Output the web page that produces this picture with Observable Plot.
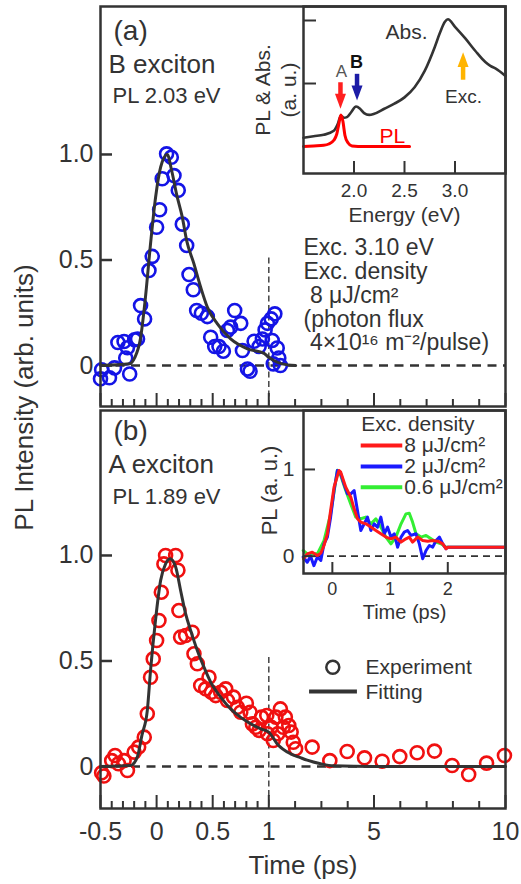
<!DOCTYPE html>
<html><head><meta charset="utf-8">
<script src="https://cdn.jsdelivr.net/npm/d3@7"></script>
<script src="https://cdn.jsdelivr.net/npm/@observablehq/plot@0.6"></script>
<style>
body{margin:0;background:#fff;}
#fig{position:relative;width:521px;height:884px;overflow:hidden;background:#fff;}
g[aria-label="y-title"] text{letter-spacing:1px;}
g[aria-label="legend-text"] text{letter-spacing:0.5px;}
</style></head><body><div id="fig"></div>
<script>
// ---------------- data ----------------
// Panel (a): B exciton, PL 2.03 eV (blue circles) and fit
const bTime = [-0.49,-0.50,-0.42,-0.375,-0.345,-0.29,-0.26,-0.275,-0.24,-0.196,-0.17,-0.143,-0.107,-0.068,-0.039,0.0,0.027,0.05,0.089,0.131,0.155,0.193,0.229,0.268,0.289,0.327,0.357,0.399,0.452,0.482,0.518,0.556,0.595,0.631,0.66,0.696,0.75,0.765,0.81,0.833,0.869,0.914,0.943,0.967,0.988,1.09,1.23,1.13,1.32,1.38,1.44,1.17];
const bPL   = [-0.02,-0.063,-0.058,-0.011,0.109,0.114,0.084,0.036,-0.04,0.122,0.126,0.284,0.221,0.45,0.517,0.655,0.738,0.885,1.003,0.987,0.90,0.83,0.67,0.569,0.431,0.359,0.261,0.248,0.232,0.134,0.09,0.09,0.068,0.166,0.182,0.261,0.20,0.071,-0.016,-0.027,0.115,0.09,0.126,0.169,0.20,0.221,0.245,0.119,0.083,0.036,0.0,0.008];
const bFitTime = [-0.5,-0.24,-0.196,-0.143,-0.1,-0.054,-0.009,0.036,0.095,0.134,0.179,0.229,0.268,0.333,0.393,0.452,0.542,0.66,0.81,0.958,1.0,1.19,1.51,2.02];
const bFitPL   = [0,0.008,0.036,0.13,0.32,0.577,0.797,0.94,1.0,0.924,0.81,0.703,0.592,0.482,0.371,0.277,0.197,0.126,0.079,0.058,0.039,0.024,0.008,0];

// Panel (b): A exciton, PL 1.89 eV (red circles) and fit
const aTime = [-0.49,-0.47,-0.40,-0.37,-0.34,-0.29,-0.26,-0.20,-0.16,-0.11,-0.083,-0.054,-0.03,0.0,0.021,0.042,0.065,0.08,0.17,0.19,0.199,0.214,0.259,0.318,0.333,0.363,0.393,0.4375,0.467,0.488,0.527,0.571,0.616,0.631,0.685,0.72,0.75,0.80,0.833,0.854,0.884,0.914,0.935,0.982,0.988,1.09,1.17,1.27,1.34,1.44,1.55,1.63,1.76,1.85,1.93,2.02,2.65,3.32,3.98,4.64,5.31,5.98,6.64,7.30,7.97,8.60,9.28,9.96];
const aPL   = [-0.03,-0.045,0.028,0.052,0.013,0.028,-0.019,0.068,0.092,0.139,0.25,0.423,0.51,0.597,0.692,0.826,0.96,1.0,1.0,0.93,0.739,0.613,0.621,0.636,0.534,0.487,0.384,0.368,0.423,0.352,0.336,0.352,0.368,0.313,0.329,0.281,0.257,0.30,0.257,0.202,0.186,0.171,0.234,0.242,0.155,0.186,0.123,0.234,0.155,0.273,0.186,0.234,0.194,0.163,0.115,0.084,0.092,0.028,0.071,0.041,0.025,0.047,0.065,0.073,0.005,-0.038,0.016,0.052];
const aFitTime = [-0.5,-0.232,-0.173,-0.13,-0.083,-0.054,-0.01,0.036,0.08,0.12,0.17,0.214,0.259,0.304,0.363,0.423,0.482,0.571,0.66,0.75,0.84,0.929,1.0,1.32,1.83,2.2,2.46,2.97,3.46,5,7,10];
const aFitPL   = [0,0.005,0.043,0.15,0.265,0.455,0.692,0.882,0.96,0.985,0.945,0.834,0.723,0.644,0.55,0.47,0.40,0.329,0.273,0.233,0.202,0.178,0.163,0.107,0.06,0.042,0.03,0.013,0.003,0,0,0];

// Inset (a): absorption and PL spectra
const absEnergy = [1.5,1.6,1.7,1.8,1.84,1.87,1.9,1.93,1.97,2.02,2.06,2.1,2.15,2.2,2.3,2.4,2.5,2.6,2.7,2.8,2.85,2.9,2.93,3.0,3.1,3.2,3.3,3.35,3.4,3.5];
const absValue  = [0.07,0.082,0.093,0.125,0.18,0.246,0.228,0.233,0.27,0.317,0.3,0.265,0.251,0.26,0.30,0.34,0.39,0.47,0.60,0.79,0.90,0.99,1.01,0.95,0.86,0.76,0.67,0.64,0.62,0.56];
const plEnergy = [1.5,1.6,1.7,1.75,1.8,1.83,1.85,1.87,1.89,1.91,1.94,1.98,2.1,2.3,2.55];
const plValue  = [0.0,0.005,0.01,0.02,0.05,0.1,0.18,0.25,0.2,0.09,0.03,0.005,0.0,0.0,0.0];
// arrows: energy, shaft start, head centre, rotation, colour
const arrowEnergy = [1.866, 2.03, 3.08];
const arrowFrom   = [0.51, 0.577, 0.53];
const arrowHead   = [0.359, 0.425, 0.689];
const arrowRotate = [0, 0, 180];
const arrowColor  = ["#ff1f1f", "#1c1ca6", "#ffb400"];

// Inset (b): PL transients for three excitation densities
const t8  = [-0.5,-0.435,-0.348,-0.26,-0.2,-0.145,-0.086,-0.03,0.029,0.116,0.145,0.232,0.32,0.377,0.435,0.493,0.58,0.667,0.754,0.84,0.928,1.015,1.1,1.19,1.275,1.333,1.39,1.478,1.565,1.652,1.739,1.826,1.913,1.971,2.0,3.0];
const pl8 = [-0.03,0.027,0.046,0.008,0.035,0.123,0.258,0.527,0.796,0.988,0.969,0.796,0.68,0.546,0.431,0.393,0.373,0.335,0.296,0.258,0.22,0.2,0.22,0.162,0.2,0.22,0.162,0.22,0.181,0.173,0.181,0.173,0.142,0.085,0.104,0.104];
const t2  = [-0.505,-0.435,-0.377,-0.32,-0.26,-0.2,-0.145,-0.086,-0.03,0.029,0.087,0.145,0.2,0.261,0.32,0.377,0.435,0.493,0.551,0.609,0.667,0.725,0.783,0.84,0.9,0.957,1.015,1.073,1.13,1.19,1.246,1.304,1.362,1.449,1.507,1.565,1.623,1.681,1.739,1.797,1.855,1.913,1.971,2.0,3.0];
const pl2 = [-0.01,-0.07,0.0,-0.11,-0.01,-0.05,0.142,0.22,0.45,0.757,0.988,0.95,0.834,0.719,0.719,0.757,0.527,0.296,0.373,0.45,0.296,0.373,0.335,0.45,0.258,0.335,0.22,0.258,0.104,0.22,0.277,0.296,0.239,0.258,0.142,-0.03,0.065,0.123,0.104,0.181,0.22,0.142,0.085,0.104,0.104];
const t06  = [-0.505,-0.435,-0.26,-0.145,-0.03,0.087,0.145,0.232,0.32,0.406,0.493,0.58,0.667,0.754,0.84,0.928,1.015,1.1,1.19,1.275,1.333,1.39,1.449,1.536,1.623,1.71,1.797,1.884,1.971,3.0];
const pl06 = [0.065,0.027,0.027,0.18,0.488,0.99,0.93,0.757,0.6,0.45,0.431,0.45,0.373,0.431,0.335,0.22,0.142,0.22,0.373,0.488,0.496,0.393,0.258,0.22,0.239,0.2,0.162,0.142,0.104,0.104];
const densityLabels = ["8 μJ/cm²", "2 μJ/cm²", "0.6 μJ/cm²"];

// ticks
const timeMajorTicks = [-0.5, 0, 0.5, 1, 5, 10];
const timeMinorTicks = [-0.4,-0.3,-0.2,-0.1,0.1,0.2,0.3,0.4,0.6,0.7,0.8,0.9,2,3,4,6,7,8,9];
const intensityTicks = [0, 0.5, 1];
const energyTicks = [2.0, 2.5, 3.0];
const insetAYTicks = [0.5, 1];
const insetBTimeTicks = [0, 1, 2];
const insetBYTicks = [0, 1];

// ---------------- drawing ----------------
const FONT = '"Liberation Sans", Arial, Helvetica, sans-serif';
const INK = "#333";
const BLUE = "#1414e6";
const RED = "#f01010";
const pts = (xs, ys) => xs.map((x, i) => ({x, y: ys[i]}));
const fig = document.getElementById("fig");
const xMain = {type: "linear", domain: [-0.5, 1, 10], range: [100, 268.3, 505]};
const svgStyle = (left, top) => ({position: "absolute", left: left + "px", top: top + "px", background: "transparent", fontFamily: FONT, color: INK, overflow: "visible"});

function timeAxes(withLabels) {
  return [
    Plot.axisX({ticks: timeMinorTicks, tickSize: -7, fill: "none", stroke: INK, strokeWidth: 2, label: null}),
    withLabels
      ? Plot.axisX({ticks: timeMajorTicks, tickSize: -13, tickPadding: 27, tickFormat: d => String(d), fontSize: 25, fill: INK, stroke: INK, strokeWidth: 2, label: null})
      : Plot.axisX({ticks: timeMajorTicks, tickSize: -13, fill: "none", stroke: INK, strokeWidth: 2, label: null}),
    Plot.axisY({ticks: intensityTicks, tickSize: -12, tickPadding: 19, tickFormat: d => d === 0 ? "0" : d.toFixed(1), fontSize: 25, fill: INK, stroke: INK, strokeWidth: 2.5, label: null})
  ];
}
function panelTexts(label, exciton, pl, d) {
  return [
    Plot.text([label], {text: d => d, frameAnchor: "top-left", dx: 13, dy: d[0], fontSize: 28, textAnchor: "start", lineAnchor: "middle", fill: INK}),
    Plot.text([exciton], {text: d => d, frameAnchor: "top-left", dx: 8, dy: d[1], fontSize: 26, textAnchor: "start", lineAnchor: "middle", fill: INK}),
    Plot.text([pl], {text: d => d, frameAnchor: "top-left", dx: 12, dy: d[2], fontSize: 22, textAnchor: "start", lineAnchor: "middle", fill: INK})
  ];
}

// main panel (b) - full height svg (also holds the shared y label)
const yB = [-0.199, 1.687];
const plotB = Plot.plot({
  width: 521, height: 884, marginLeft: 100, marginRight: 16, marginTop: 410, marginBottom: 76,
  x: xMain, y: {domain: yB},
  style: svgStyle(0, 0),
  marks: [
    Plot.ruleY([0], {stroke: INK, strokeWidth: 2.5, strokeDasharray: "9,6.5"}),
    Plot.ruleX([1], {y1: 0.517, y2: yB[0], stroke: "#444", strokeWidth: 1.5, strokeDasharray: "6,3.5"}),
    Plot.dot(pts(aTime, aPL), {x: "x", y: "y", r: 6.5, stroke: RED, strokeWidth: 2.6}),
    Plot.line(pts(aFitTime, aFitPL), {x: "x", y: "y", stroke: INK, strokeWidth: 3, curve: "monotone-x"}),
    ...timeAxes(true),
    Plot.frame({stroke: INK, strokeWidth: 2.5}),
    ...panelTexts("(b)", "A exciton", "PL 1.89 eV", [21, 54.5, 86]),
    // legend
    Plot.dot(["Experiment"], {frameAnchor: "top-left", dx: 232.3, dy: 256.7, r: 6.5, stroke: INK, strokeWidth: 2.5}),
    Plot.ruleY([0.355], {x1: 2.55, x2: 4.37, stroke: INK, strokeWidth: 4}),
    Plot.text(["Experiment"], {ariaLabel: "legend-text", text: d => d, frameAnchor: "top-left", dx: 265, dy: 256.5, fontSize: 21, textAnchor: "start", lineAnchor: "middle", fill: INK}),
    Plot.text(["Fitting"], {ariaLabel: "legend-text", text: d => d, frameAnchor: "top-left", dx: 265, dy: 281.5, fontSize: 21, textAnchor: "start", lineAnchor: "middle", fill: INK}),
    // axis titles
    Plot.text(["Time (ps)"], {text: d => d, frameAnchor: "bottom", dy: 57, fontSize: 26, lineAnchor: "middle", fill: INK}),
    Plot.text(["PL Intensity (arb. units)"], {ariaLabel: "y-title", text: d => d, frameAnchor: "left", rotate: -90, dx: -76, dy: -212, fontSize: 26, textAnchor: "middle", lineAnchor: "middle", fill: INK})
  ]
});

// main panel (a)
const yA = [-0.194, 1.701];
const plotA = Plot.plot({
  width: 521, height: 410, marginLeft: 100, marginRight: 16, marginTop: 6, marginBottom: 4,
  x: xMain, y: {domain: yA},
  style: svgStyle(0, 0),
  marks: [
    Plot.ruleY([0], {stroke: INK, strokeWidth: 2.5, strokeDasharray: "9,6.5"}),
    Plot.ruleX([1], {y1: 0.51, y2: yA[0], stroke: "#444", strokeWidth: 1.5, strokeDasharray: "6,3.5"}),
    Plot.dot(pts(bTime, bPL), {x: "x", y: "y", r: 6.5, stroke: BLUE, strokeWidth: 2.6}),
    Plot.line(pts(bFitTime, bFitPL), {x: "x", y: "y", stroke: INK, strokeWidth: 3, curve: "monotone-x"}),
    ...timeAxes(false),
    Plot.frame({stroke: INK, strokeWidth: 2.5}),
    ...panelTexts("(a)", "B exciton", "PL 2.03 eV", [24.5, 58.5, 89.5]),
    Plot.text(["Exc. 3.10 eV\nExc. density\n 8 μJ/cm²\n(photon flux\n 4×10¹⁶ m⁻²/pulse)"], {text: d => d, frameAnchor: "top-left", dx: 203, dy: 232, fontSize: 23, lineHeight: 1.033, textAnchor: "start", lineAnchor: "top", fill: INK})
  ]
});

// inset (a)
const headSymbol = {draw(ctx, size) { const r = Math.sqrt(size / Math.PI); ctx.moveTo(0, 1.35 * r); ctx.lineTo(r, -1.35 * r); ctx.lineTo(-r, -1.35 * r); ctx.closePath(); }};
const arrows = arrowEnergy.map((e, i) => ({e, from: arrowFrom[i], head: arrowHead[i], rot: arrowRotate[i], color: arrowColor[i]}));
const insetA = Plot.plot({
  width: 281, height: 230, marginLeft: 63, marginRight: 16, marginTop: 6, marginBottom: 57,
  x: {domain: [1.5, 3.5]}, y: {domain: [-0.214, 1.111]},
  color: {type: "identity"},
  style: svgStyle(240, 0),
  marks: [
    Plot.line(pts(absEnergy, absValue), {x: "x", y: "y", stroke: INK, strokeWidth: 2.6, curve: "monotone-x"}),
    Plot.line(pts(plEnergy, plValue), {x: "x", y: "y", stroke: "#ff0000", strokeWidth: 3, curve: "monotone-x"}),
    Plot.link(arrows, {x1: "e", x2: "e", y1: "from", y2: "head", stroke: "color", strokeWidth: 4.5}),
    Plot.dot(arrows, {x: "e", y: "head", r: 5.5, symbol: headSymbol, fill: "color", stroke: "none", rotate: "rot"}),
    Plot.text(["Abs."], {text: d => d, x: 2.52, y: 0.905, fontSize: 21, fill: INK, lineAnchor: "middle"}),
    Plot.text(["Exc."], {text: d => d, x: 3.084, y: 0.39, fontSize: 19, fill: INK, lineAnchor: "middle"}),
    Plot.text(["A"], {text: d => d, x: 1.876, y: 0.595, fontSize: 17, fill: "#555", lineAnchor: "middle"}),
    Plot.text(["B"], {text: d => d, x: 2.025, y: 0.667, fontSize: 18, fontWeight: "bold", fill: "#111", lineAnchor: "middle"}),
    Plot.text(["PL"], {text: d => d, x: 2.38, y: 0.08, fontSize: 21, fill: "#ff0000", lineAnchor: "middle"}),
    Plot.axisX({ticks: energyTicks, tickSize: -12, tickPadding: 22, tickFormat: d => d.toFixed(1), fontSize: 19, fill: INK, stroke: INK, strokeWidth: 2, label: null}),
    Plot.axisY({ticks: insetAYTicks, tickSize: -13, fill: "none", stroke: INK, strokeWidth: 2, label: null}),
    Plot.frame({stroke: INK, strokeWidth: 2.5}),
    Plot.text(["Energy (eV)"], {text: d => d, frameAnchor: "bottom", dy: 42, fontSize: 21, lineAnchor: "middle", fill: INK}),
    Plot.text(["PL & Abs.\n(a. u.)"], {text: d => d, frameAnchor: "left", rotate: -90, dx: -29, fontSize: 21, lineHeight: 1.24, textAnchor: "middle", lineAnchor: "middle", fill: INK})
  ]
});

// inset (b)
const lineColors = ["#ff1a1a", "#1a1aff", "#33ee33"];
const legendY = [1.276, 1.034, 0.795];
const insetB = Plot.plot({
  width: 281, height: 222, marginLeft: 63, marginRight: 16, marginTop: 10, marginBottom: 49,
  x: {domain: [-0.5, 3]}, y: {domain: [-0.2, 1.68]},
  style: svgStyle(240, 400),
  marks: [
    Plot.ruleY([0], {stroke: INK, strokeWidth: 1.8, strokeDasharray: "7,5"}),
    Plot.line(pts(t06, pl06), {x: "x", y: "y", stroke: lineColors[2], strokeWidth: 3}),
    Plot.line(pts(t2, pl2), {x: "x", y: "y", stroke: lineColors[1], strokeWidth: 3}),
    Plot.line(pts(t8, pl8), {x: "x", y: "y", stroke: lineColors[0], strokeWidth: 3}),
    Plot.text(["Exc. density"], {text: d => d, x: 0.5, y: 1.519, fontSize: 21, textAnchor: "start", lineAnchor: "middle", fill: INK}),
    ...densityLabels.flatMap((lab, i) => [
      Plot.ruleY([legendY[i]], {x1: 0.5, x2: 1.22, stroke: lineColors[i], strokeWidth: 4}),
      Plot.text([lab], {text: d => d, x: 1.245, y: legendY[i], fontSize: 21, textAnchor: "start", lineAnchor: "middle", fill: INK})
    ]),
    Plot.axisX({ticks: insetBTimeTicks, tickSize: -11, tickPadding: 20, tickFormat: d => String(d), fontSize: 18, fill: INK, stroke: INK, strokeWidth: 2, label: null}),
    Plot.axisY({ticks: insetBYTicks, tickSize: -12, tickPadding: 21, tickFormat: d => String(d), fontSize: 21, fill: INK, stroke: INK, strokeWidth: 2, label: null}),
    Plot.frame({stroke: INK, strokeWidth: 2.5}),
    Plot.text(["Time (ps)"], {text: d => d, frameAnchor: "bottom", dy: 39, fontSize: 20, lineAnchor: "middle", fill: INK}),
    Plot.text(["PL (a. u.)"], {text: d => d, frameAnchor: "left", rotate: -90, dx: -34, dy: -1.5, fontSize: 22, textAnchor: "middle", lineAnchor: "middle", fill: INK})
  ]
});

fig.append(plotB, plotA, insetA, insetB);
</script></body></html>
